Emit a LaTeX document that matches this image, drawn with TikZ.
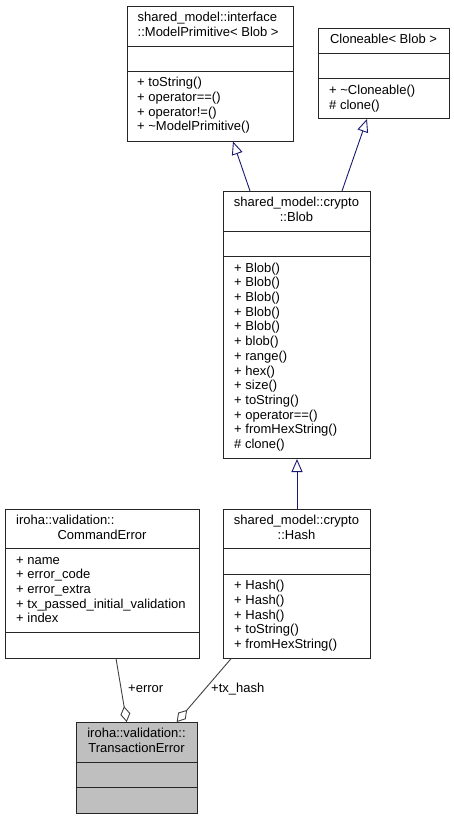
\documentclass[tikz,border=0pt]{standalone}
\usepackage{fontspec}
\setmainfont{Liberation Sans}
\usetikzlibrary{arrows.meta}
\definecolor{inhcol}{HTML}{191970}
\definecolor{aggcol}{HTML}{404040}
\definecolor{tefill}{HTML}{BFBFBF}
\newcommand{\umlfont}{\fontsize{13}{14.7}\selectfont}
\begin{document}
\begin{tikzpicture}[x=1pt,y=-1pt,
  box/.style={draw=black!85, line width=1pt, fill=white, anchor=north west, inner sep=0pt, rectangle},
  sep/.style={draw=black!85, line width=1pt},
  txtl/.style={anchor=north west, inner sep=0pt, align=left, font=\umlfont},
  txtc/.style={anchor=north, inner sep=0pt, align=center, font=\umlfont},
  lbl/.style={anchor=base west, inner sep=0pt, font=\umlfont},
  inh/.style={draw=inhcol, line width=0.9pt, -{Triangle[open, length=13pt, width=11pt]}},
  agg/.style={draw=aggcol, line width=0.9pt, -{Diamond[open, length=16pt, width=10pt]}}]
\useasboundingbox (0,0) rectangle (454,819);

% ModelPrimitive
\node[box, minimum width=166pt, minimum height=134.5pt] (mp) at (127,6) {};
\draw[sep] (127,46) -- (293,46);
\draw[sep] (127,71) -- (293,71);
\node[txtl] (mpT) at (137.5,11.2) {\strut shared\_model::interface\\::ModelPrimitive< Blob >};
\node[txtl] (mpM) at (137,76.2) {\strut + toString()\\+ operator==()\\+ operator!=()\\+ \textasciitilde ModelPrimitive()};

% Cloneable
\node[box, minimum width=131pt, minimum height=90pt] (cl) at (318,28) {};
\draw[sep] (318,53) -- (449,53);
\draw[sep] (318,78.5) -- (449,78.5);
\node[txtc] (clT) at (383.5,33.2) {\strut Cloneable< Blob >};
\node[txtl] (clM) at (329,84.2) {\strut + \textasciitilde Cloneable()\\\# clone()};

% Blob
\node[box, minimum width=147pt, minimum height=267pt] (blob) at (223,191) {};
\draw[sep] (223,231) -- (370,231);
\draw[sep] (223,256.5) -- (370,256.5);
\node[txtc] (blobT) at (296.5,196.2) {\strut shared\_model::crypto\\::Blob};
\node[txtl] (blobM) at (234,261.7) {\strut + Blob()\\+ Blob()\\+ Blob()\\+ Blob()\\+ Blob()\\+ blob()\\+ range()\\+ hex()\\+ size()\\+ toString()\\+ operator==()\\+ fromHexString()\\\# clone()};

% CommandError
\node[box, minimum width=194pt, minimum height=148.5pt] (ce) at (5,509) {};
\draw[sep] (5,548.5) -- (199,548.5);
\draw[sep] (5,632.5) -- (199,632.5);
\node[txtl] (ceT1) at (16,514.2) {\strut iroha::validation::};
\node[txtc] (ceT2) at (102,528.9) {\strut CommandError};
\node[txtl] (ceA) at (16,553.7) {\strut + name\\+ error\_code\\+ error\_extra\\+ tx\_passed\_initial\_validation\\+ index};

% Hash
\node[box, minimum width=147pt, minimum height=148.7pt] (hash) at (223,509) {};
\draw[sep] (223,548.7) -- (370,548.7);
\draw[sep] (223,574) -- (370,574);
\node[txtc] (hashT) at (296.5,514.2) {\strut shared\_model::crypto\\::Hash};
\node[txtl] (hashM) at (234,579.2) {\strut + Hash()\\+ Hash()\\+ Hash()\\+ toString()\\+ fromHexString()};

% TransactionError
\node[box, fill=tefill, minimum width=121pt, minimum height=90.5pt] (te) at (76,722) {};
\draw[sep] (76,762) -- (197,762);
\draw[sep] (76,787) -- (197,787);
\node[txtc] (teT) at (136.5,727.2) {\strut iroha::validation::\\TransactionError};

% inheritance
\draw[inh] ([xshift=27pt]blob.north west) -- ([xshift=106pt]mp.south west);
\draw[inh] ([xshift=119pt]blob.north west) -- ([xshift=49pt]cl.south west);
\draw[inh] (hash.north) -- (blob.south);

% aggregation
\draw[agg] ([xshift=111pt]ce.south west) -- ([xshift=50.7pt]te.north west);
\draw[agg] ([xshift=8pt]hash.south west) -- ([xshift=100.7pt]te.north west);
\node[lbl] (lerr) at (128,692.7) {+error};
\node[lbl] (ltx) at (211,692.7) {+tx\_hash};
\end{tikzpicture}
\end{document}
